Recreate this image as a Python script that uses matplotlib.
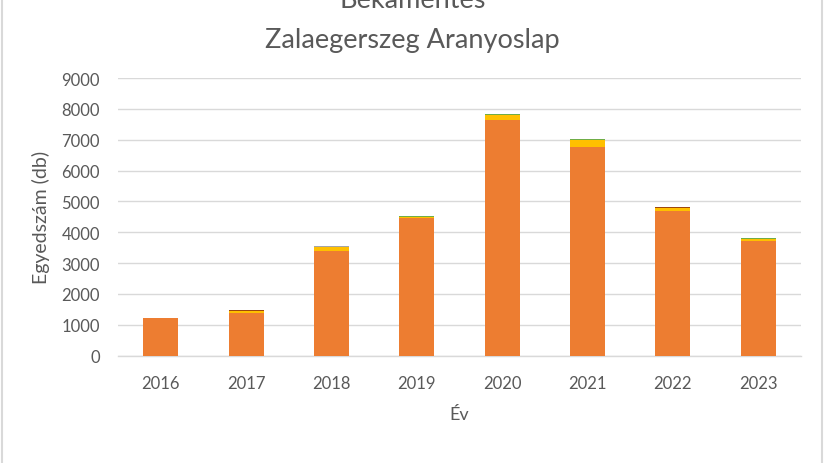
import numpy as np
import matplotlib
matplotlib.use("Agg")
from matplotlib import pyplot as plt
from matplotlib.lines import Line2D

plt.rcParams['font.family'] = ['Lato', 'DejaVu Sans']

evek = ['2016', '2017', '2018', '2019', '2020', '2021', '2022', '2023']
# fajonkénti egyedszámok
barna_varangy = [1210, 1380, 3380, 4460, 7650, 6775, 4680, 3730]
zold_varangy = [25, 60, 150, 45, 160, 225, 115, 50]
erdei_beka = [0, 0, 40, 0, 0, 0, 0, 0]
gyepi_beka = [0, 35, 0, 0, 0, 0, 30, 0]
egyeb = [0, 0, 0, 30, 30, 30, 10, 25]

sorozatok = [
    ("barna varangy", barna_varangy, "#ED7D31"),
    ("zöld varangy", zold_varangy, "#FFC000"),
    ("erdei béka", erdei_beka, "#A5A5A5"),
    ("gyepi béka", gyepi_beka, "#9E480E"),
    ("kecskebéka", egyeb, "#70AD47"),
]

szurke = "#595959"
fig = plt.figure(figsize=(8.25, 4.64), dpi=100)
ax = fig.add_axes([0.143, 0.2313, 0.8277, 0.5984])

x = np.arange(len(evek))
alap = np.zeros(len(evek))
for nev, ertek, szin in sorozatok:
    ax.bar(x, ertek, 0.41, bottom=alap, color=szin, label=nev, zorder=3)
    alap += np.array(ertek)

ax.set_xlim(-0.5, len(evek) - 0.5)
ax.set_ylim(0, 9000)
ax.set_yticks(range(0, 9001, 1000))
ax.set_xticks(x)
ax.set_xticklabels(evek)
ax.grid(axis='y', color='#D9D9D9', linewidth=1.0, zorder=0)
for s in ['top', 'right', 'left']:
    ax.spines[s].set_visible(False)
ax.spines['bottom'].set_color('#D9D9D9')
ax.spines['bottom'].set_linewidth(1.0)
ax.tick_params(length=0, colors=szurke, labelsize=12)
ax.tick_params(axis='y', pad=13)
ax.tick_params(axis='x', pad=14)
ax.set_ylabel("Egyedszám (db)", fontsize=14, color=szurke)
ax.yaxis.set_label_coords(-0.1, 0.5)
ax.set_xlabel("Év", fontsize=13, color=szurke, labelpad=11)

fig.text(0.5, 1 - 8 / 464, "Békamentés", ha='center', va='baseline', fontsize=19.5, color=szurke)
fig.text(0.5, 1 - 48 / 464, "Zalaegerszeg Aranyoslap", ha='center', va='baseline', fontsize=19.5,
         color=szurke)

# jelmagyarázat, a kép alján levágva
fig.legend(loc='upper center', bbox_to_anchor=(0.49, 1 - 460 / 464), ncol=5, frameon=False,
           fontsize=12, labelcolor=szurke, handlelength=0.7, handleheight=0.7,
           columnspacing=5, borderpad=0)

# diagram keret
fig.add_artist(Line2D([2 / 825, 2 / 825], [0, 1], color='#D9D9D9', linewidth=1.5))
fig.add_artist(Line2D([822 / 825, 822 / 825], [0, 1], color='#D9D9D9', linewidth=1.5))

fig.savefig("out.png", dpi=100)
